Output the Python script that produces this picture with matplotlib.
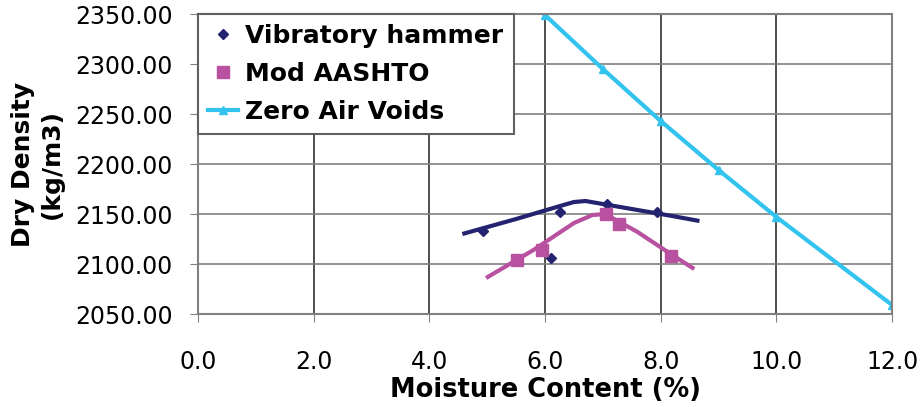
import matplotlib
matplotlib.use("Agg")
import matplotlib.pyplot as plt

# measured points
vib_x = [4.93, 6.11, 6.26, 7.07, 7.94]
vib_y = [2133, 2106, 2152, 2160, 2152]
mod_x = [5.52, 5.95, 7.06, 7.28, 8.17]
mod_y = [2104, 2114, 2150, 2140, 2108]
zav_x = [6, 7, 8, 9, 10, 12]
zav_y = [2349, 2295, 2243, 2194, 2147, 2059]

# fitted curves
vib_fit_x = [4.57, 5.5, 6.2, 6.5, 6.7, 6.9, 7.5, 8.2, 8.67]
vib_fit_y = [2130, 2145, 2157, 2162, 2163, 2161, 2155, 2148, 2143]
mod_fit_x = [4.98, 5.8, 6.5, 6.82, 7.04, 7.6, 8.2, 8.58]
mod_fit_y = [2086, 2114, 2141, 2149, 2150, 2132, 2109, 2095]

navy = "#23236f"
pink = "#b8519f"
cyan = "#33c3ef"

fig = plt.figure(figsize=(9.23, 4.07), dpi=100)
ax = fig.add_axes([0.2145, 0.2285, 0.752, 0.737])

ax.plot(vib_fit_x, vib_fit_y, color=navy, lw=3, solid_capstyle="butt")
ax.plot(mod_fit_x, mod_fit_y, color=pink, lw=3, solid_capstyle="butt")
ax.plot(vib_x, vib_y, ls="none", marker="D", ms=5.5, color=navy, label="Vibratory hammer")
ax.plot(mod_x, mod_y, ls="none", marker="s", ms=8, color=pink, label="Mod AASHTO")
ax.plot(zav_x, zav_y, color=cyan, lw=3, marker="^", ms=6, label="Zero Air Voids")

ax.set_xlim(0, 12)
ax.set_ylim(2050, 2350)
ax.set_xticks(range(0, 13, 2))
ax.set_xticklabels(["%.1f" % v for v in range(0, 13, 2)])
ax.set_yticks(range(2050, 2351, 50))
ax.set_yticklabels(["%.2f" % v for v in range(2050, 2351, 50)])
ax.tick_params(labelsize=17, length=6, color="#808080")
ax.tick_params(axis="y", pad=12)
ax.tick_params(axis="x", pad=20)
ax.grid(True, axis="x", color="#303030", lw=1.2)
ax.grid(True, axis="y", color="#808080", lw=1.2)
ax.set_axisbelow(True)
for s in ax.spines.values():
    s.set_color("#808080")
    s.set_linewidth(1.5)

ax.set_xlabel("Moisture Content (%)", fontsize=18.5, fontweight="bold", labelpad=2)
ax.set_ylabel("Dry Density\n(kg/m3)", fontsize=18, fontweight="bold", labelpad=8,
              linespacing=1.3)

leg = ax.legend(loc="upper left", prop={"weight": "bold", "size": 18},
                frameon=True, fancybox=False, borderaxespad=0, handlelength=1.2,
                labelspacing=0.55, borderpad=0.4, handletextpad=0.3)
leg.get_frame().set_edgecolor("#606060")
leg.get_frame().set_linewidth(1.5)
leg.get_frame().set_alpha(1)

fig.savefig("out.png", dpi=100)
